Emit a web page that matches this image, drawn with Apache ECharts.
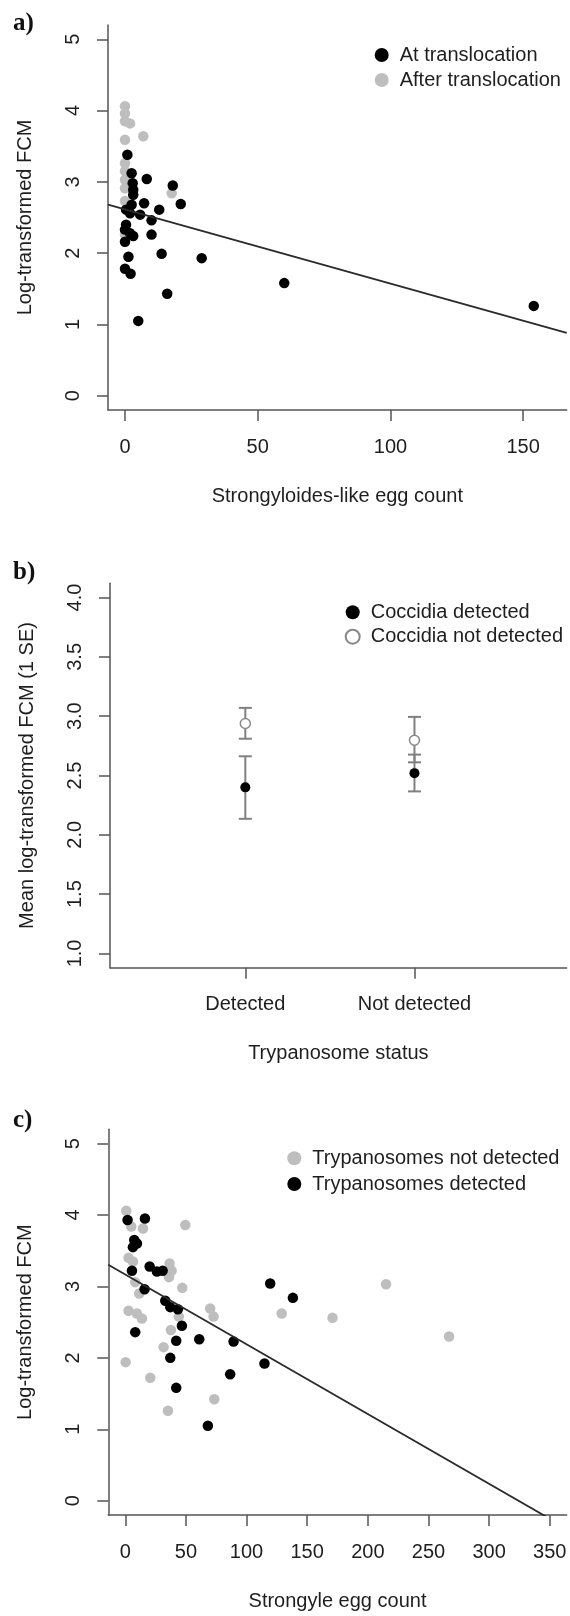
<!DOCTYPE html>
<html>
<head>
<meta charset="utf-8">
<script src="https://cdn.jsdelivr.net/npm/echarts@6/dist/echarts.min.js"></script>
<style>
  html, body { margin: 0; padding: 0; background: #fff; }
  #chart { width: 570px; height: 1616px; }
</style>
</head>
<body>
<div id="chart"></div>
<script>
// ---- panel a: FCM vs Strongyloides-like egg count ----
const atTranslocation = [
  [0.9, 3.38], [2.5, 3.12], [2.9, 2.98], [3.1, 2.89], [3.1, 2.82], [8.2, 3.04],
  [18, 2.95], [7.2, 2.70], [21, 2.69], [12.9, 2.61], [0.4, 2.61], [2.5, 2.68],
  [1.9, 2.56], [5.7, 2.54], [10, 2.46], [0.4, 2.40], [0, 2.33], [1.9, 2.28],
  [3.1, 2.24], [0, 2.16], [10, 2.26], [13.8, 1.99], [28.9, 1.93], [1.3, 1.95],
  [0, 1.78], [2.1, 1.71], [15.9, 1.43], [5, 1.05], [60, 1.58], [154, 1.26]
]
const afterTranslocation = [
  [0, 4.06], [0, 3.96], [0, 3.85], [1.9, 3.82], [0, 3.59], [6.9, 3.64],
  [0, 3.26], [0, 3.15], [0, 3.03], [0, 2.91], [17.6, 2.84], [0, 2.73], [0, 2.26]
]
const fitA = { intercept: 2.613, slope: -0.0104 }
const xTicksA = [0, 50, 100, 150]
const yTicksA = [0, 1, 2, 3, 4, 5]

// ---- panel b: mean FCM by trypanosome / coccidia status ----
const trypStatus = ['Detected', 'Not detected']
const statusPos = [1, 2]
const coccDetMean = [2.40, 2.52]
const coccDetLow = [2.135, 2.366]
const coccDetHigh = [2.662, 2.676]
const coccNotMean = [2.938, 2.797]
const coccNotLow = [2.81, 2.611]
const coccNotHigh = [3.07, 2.994]
const yTicksB = [1.0, 1.5, 2.0, 2.5, 3.0, 3.5, 4.0]

// ---- panel c: FCM vs Strongyle egg count ----
const trypNotDetected = [
  [0.8, 4.06], [4.9, 3.84], [14.6, 3.81], [49.5, 3.86], [2.7, 3.40], [6.3, 3.35],
  [36.5, 3.32], [38.2, 3.22], [36, 3.13], [8.2, 3.06], [11.5, 2.90], [47, 2.98],
  [2.7, 2.66], [9.6, 2.62], [13.7, 2.55], [37.6, 2.39], [44.2, 2.58], [70, 2.69],
  [72.8, 2.58], [31.6, 2.15], [0.3, 1.94], [20.6, 1.72], [73.4, 1.42], [35.2, 1.26],
  [129, 2.62], [215, 3.03], [170.9, 2.56], [267, 2.30]
]
const trypDetected = [
  [1.9, 3.93], [16.2, 3.95], [7.4, 3.65], [9.6, 3.60], [6.3, 3.55], [5.5, 3.22],
  [20.1, 3.28], [26.1, 3.21], [30.8, 3.22], [15.9, 2.96], [8.2, 2.36], [33, 2.80],
  [37.1, 2.71], [43.4, 2.68], [46.7, 2.45], [42, 2.24], [61, 2.26], [37.1, 2.00],
  [42, 1.58], [89.3, 2.23], [86.5, 1.77], [114.8, 1.92], [119.5, 3.04], [138.2, 2.84],
  [68.1, 1.05]
]
const fitC = { intercept: 3.166, slope: -0.009765 }
const xTicksC = [0, 50, 100, 150, 200, 250, 300, 350]
const yTicksC = [0, 1, 2, 3, 4, 5]

const FONT = 'Liberation Sans'
const TXT = '#1e1e1e'
const AXIS = '#555'
const GREY = '#bebebe'

const xRangeA = [-6.4, 166.4]
const xRangeB = [0.2, 2.9]
const xRangeC = [-14, 364]

function fitLine(fit, range) {
  return range.map(x => [x, fit.intercept + fit.slope * x])
}

function valueAxis(gridIndex, min, max, ticks, extra) {
  return Object.assign({
    type: 'value',
    gridIndex,
    min, max,
    splitLine: { show: false },
    axisLine: { show: true, onZero: false, lineStyle: { color: AXIS, width: 1.5 } },
    axisTick: { show: true, length: 11, customValues: ticks, lineStyle: { color: AXIS, width: 1.5 } },
    axisLabel: { customValues: ticks, color: TXT, fontFamily: FONT, fontSize: 20, margin: 27 },
    nameLocation: 'middle',
    nameTextStyle: { color: TXT, fontFamily: FONT, fontSize: 20 }
  }, extra)
}

function yAxisOpts(gridIndex, min, max, ticks, name, fmt) {
  const ax = valueAxis(gridIndex, min, max, ticks, { name, nameGap: 73 })
  ax.axisLabel.rotate = 90
  ax.axisLabel.margin = 25
  if (fmt) ax.axisLabel.formatter = fmt
  return ax
}

function errorBar(color) {
  return function (params, api) {
    const x = api.value(0)
    const lo = api.coord([x, api.value(1)])
    const hi = api.coord([x, api.value(2)])
    const w = 6.5
    const style = { stroke: color, lineWidth: 2 }
    return {
      type: 'group',
      children: [
        { type: 'line', shape: { x1: lo[0], y1: lo[1], x2: hi[0], y2: hi[1] }, style },
        { type: 'line', shape: { x1: lo[0] - w, y1: lo[1], x2: lo[0] + w, y2: lo[1] }, style },
        { type: 'line', shape: { x1: hi[0] - w, y1: hi[1], x2: hi[0] + w, y2: hi[1] }, style }
      ]
    }
  }
}

const legendText = { color: TXT, fontFamily: FONT, fontSize: 20, lineHeight: 20, padding: [0, 0, 0, 6] }

const chart = echarts.init(document.getElementById('chart'), null, { renderer: 'canvas' })

const option = {
  animation: false,
  backgroundColor: '#fff',
  grid: [
    { left: 108, top: 25, width: 458.7, height: 385 },
    { left: 110, top: 583.3, width: 456.7, height: 384.4 },
    { left: 108.3, top: 1129.3, width: 458.4, height: 385.7 }
  ],
  xAxis: [
    valueAxis(0, xRangeA[0], xRangeA[1], xTicksA, { name: 'Strongyloides-like egg count', nameGap: 76 }),
    valueAxis(1, xRangeB[0], xRangeB[1], statusPos, {
      name: 'Trypanosome status', nameGap: 76
    }),
    valueAxis(2, xRangeC[0], xRangeC[1], xTicksC, { name: 'Strongyle egg count', nameGap: 76 })
  ],
  yAxis: [
    yAxisOpts(0, -0.2, 5.2, yTicksA, 'Log-transformed FCM'),
    yAxisOpts(1, 0.88, 4.12, yTicksB, 'Mean log-transformed FCM (1 SE)', v => v.toFixed(1)),
    yAxisOpts(2, -0.2, 5.2, yTicksC, 'Log-transformed FCM')
  ],
  legend: [
    {
      data: ['At translocation', 'After translocation'],
      orient: 'vertical', left: 369.7, top: 40, itemGap: 5,
      itemWidth: 14, itemHeight: 14, icon: 'circle', textStyle: legendText
    },
    {
      data: ['Coccidia detected', 'Coccidia not detected'],
      orient: 'vertical', left: 339.7, top: 597.3, itemGap: 4.4,
      itemWidth: 14, itemHeight: 14, icon: 'circle', textStyle: legendText
    },
    {
      data: ['Trypanosomes not detected', 'Trypanosomes detected'],
      orient: 'vertical', left: 282.3, top: 1143.3, itemGap: 5.7,
      itemWidth: 14, itemHeight: 14, icon: 'circle', textStyle: legendText
    }
  ],
  graphic: [
    { type: 'text', left: 13, top: 11, style: { text: 'a)', font: 'bold 25px "Liberation Serif"', fill: '#111' } },
    { type: 'text', left: 13, top: 560, style: { text: 'b)', font: 'bold 25px "Liberation Serif"', fill: '#111' } },
    { type: 'text', left: 13, top: 1108, style: { text: 'c)', font: 'bold 25px "Liberation Serif"', fill: '#111' } }
  ],
  series: [
    // panel a
    {
      name: 'After translocation', type: 'scatter', xAxisIndex: 0, yAxisIndex: 0,
      data: afterTranslocation, symbolSize: 10.5, itemStyle: { color: GREY, opacity: 1 }
    },
    {
      name: 'At translocation', type: 'scatter', xAxisIndex: 0, yAxisIndex: 0,
      data: atTranslocation, symbolSize: 10.5, itemStyle: { color: '#000', opacity: 1 }
    },
    {
      type: 'line', xAxisIndex: 0, yAxisIndex: 0, data: fitLine(fitA, xRangeA),
      showSymbol: false, silent: true, clip: true, lineStyle: { color: '#2a2a2a', width: 1.8 }
    },
    // panel b
    {
      type: 'custom', xAxisIndex: 1, yAxisIndex: 1,
      renderItem: errorBar('#808080'),
      data: statusPos.map((p, i) => [p, coccDetLow[i], coccDetHigh[i]])
    },
    {
      type: 'custom', xAxisIndex: 1, yAxisIndex: 1,
      renderItem: errorBar('#808080'),
      data: statusPos.map((p, i) => [p, coccNotLow[i], coccNotHigh[i]])
    },
    {
      name: 'Coccidia detected', type: 'scatter', xAxisIndex: 1, yAxisIndex: 1,
      data: statusPos.map((p, i) => [p, coccDetMean[i]]), symbolSize: 10,
      itemStyle: { color: '#000', opacity: 1 }
    },
    {
      name: 'Coccidia not detected', type: 'scatter', xAxisIndex: 1, yAxisIndex: 1,
      data: statusPos.map((p, i) => [p, coccNotMean[i]]), symbolSize: 10,
      itemStyle: { color: '#fff', borderColor: '#888', borderWidth: 1.5, opacity: 1 }
    },
    // panel c
    {
      name: 'Trypanosomes not detected', type: 'scatter', xAxisIndex: 2, yAxisIndex: 2,
      data: trypNotDetected, symbolSize: 10.5, itemStyle: { color: GREY, opacity: 1 }
    },
    {
      name: 'Trypanosomes detected', type: 'scatter', xAxisIndex: 2, yAxisIndex: 2,
      data: trypDetected, symbolSize: 10.5, itemStyle: { color: '#000', opacity: 1 }
    },
    {
      type: 'line', xAxisIndex: 2, yAxisIndex: 2, data: fitLine(fitC, xRangeC),
      showSymbol: false, silent: true, clip: true, lineStyle: { color: '#2a2a2a', width: 1.8 }
    }
  ]
}

// category labels for the trypanosome status axis
option.xAxis[1].axisLabel.formatter = v => trypStatus[statusPos.indexOf(v)] || ''

chart.setOption(option)
</script>
</body>
</html>
